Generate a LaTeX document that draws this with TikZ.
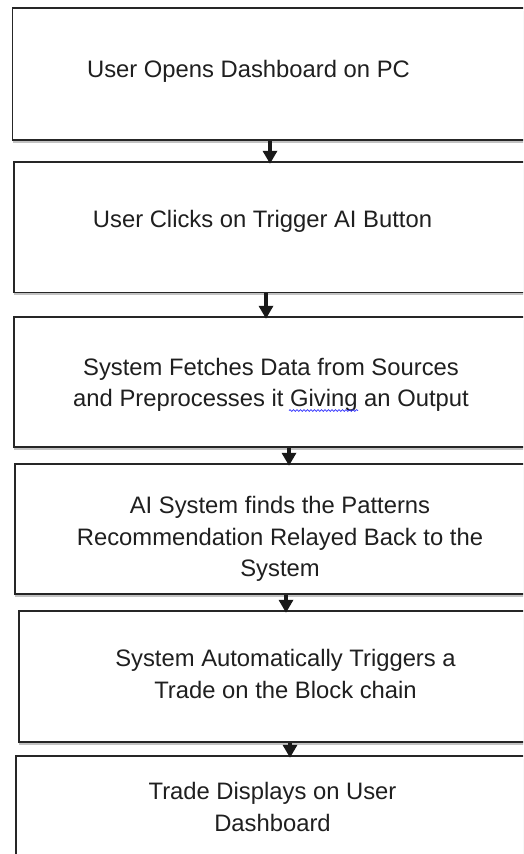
\documentclass[tikz,border=0pt]{standalone}
\usepackage{fontspec}
\setmainfont{Liberation Sans}
\usetikzlibrary{arrows.meta, shadows, decorations.pathmorphing}

\begin{document}
\begin{tikzpicture}[
    x=1pt, y=-1pt,
    box/.style={rectangle, draw=black!85, line width=1.4pt, fill=white, inner sep=0pt,
        drop shadow={shadow xshift=0pt, shadow yshift=-2.5pt, fill=black!40, opacity=0.6}},
    txt/.style={inner sep=0pt, align=center, text=black!88, font=\fontsize{23.8}{31.5}\selectfont},
    arr/.style={-{Triangle[width=14pt, length=13pt]}, line width=3.5pt, draw=black!90, shorten >=-2.5pt}
]
    \useasboundingbox (0,0) rectangle (523,854);
    \clip (0,0) rectangle (523,854);

    % Steps
    \node[box, minimum width=532.5pt, minimum height=132pt] (open) at (278.75,74) {};
    \node[box, minimum width=531pt, minimum height=130.5pt] (click) at (279.5,227.25) {};
    \node[box, minimum width=531pt, minimum height=130pt] (fetch) at (279.5,382) {};
    \node[box, minimum width=530pt, minimum height=130pt] (ai) at (280,529) {};
    \node[box, minimum width=526pt, minimum height=131pt] (trade) at (282,676.5) {};
    \node[box, minimum width=529pt, minimum height=134pt] (show) at (280.5,823) {};

    % Step texts
    \node[txt] (opentxt) at (248.5,70.9) {User Opens Dashboard on PC};
    \node[txt] (clicktxt) at (262.5,220.9) {User Clicks on Trigger AI Button};
    \node[txt] (fetchtxt) at (271,384.9) {System Fetches Data from Sources\\and Preprocesses it Giving an Output};
    \node[txt] (aitxt) at (280,538.9) {AI System finds the Patterns\\Recommendation Relayed Back to the\\System};
    \node[txt] (tradetxt) at (285.5,673.9) {System Automatically Triggers a\\Trade on the Block chain};
    \node[txt] (showtxt) at (272.5,806.9) {Trade Displays on User\\Dashboard};

    % spell-check squiggle
    \draw[blue!80, line width=0.7pt, decorate, decoration={snake, amplitude=0.9pt, segment length=3.5pt}]
        (289,410.5) -- (358,410.5);

    % Arrows
    \draw[arr] (open.south -| 270,0) -- (click.north -| 270,0);
    \draw[arr] (click.south -| 266,0) -- (fetch.north -| 266,0);
    \draw[arr] (fetch.south -| 289,0) -- (ai.north -| 289,0);
    \draw[arr] (ai.south -| 286,0) -- (trade.north -| 286,0);
    \draw[arr] (trade.south -| 290,0) -- (show.north -| 290,0);
\end{tikzpicture}
\end{document}
